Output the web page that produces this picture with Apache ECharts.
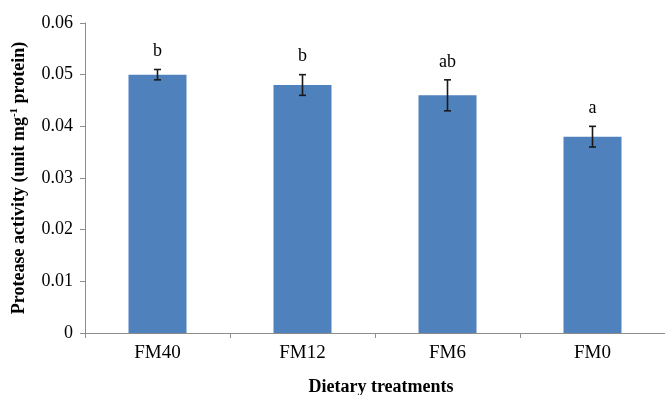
<!DOCTYPE html>
<html><head><meta charset="utf-8">
<script src="https://cdn.jsdelivr.net/npm/echarts@6/dist/echarts.min.js"></script>
<style>html,body{margin:0;padding:0;background:#fff}#c{width:665px;height:395px}</style>
</head><body><div id="c"></div>
<script>
var categories = ['FM40', 'FM12', 'FM6', 'FM0'];
var means = [0.050, 0.048, 0.046, 0.038];
var errors = [0.001, 0.002, 0.003, 0.002];
var letters = ['b', 'b', 'ab', 'a'];
var yTicks = [0, 0.01, 0.02, 0.03, 0.04, 0.05, 0.06];

var FONT = '"Liberation Serif", "Times New Roman", serif';
var chart = echarts.init(document.getElementById('c'), null, {renderer: 'canvas'});
var errData = means.map(function (m, i) { return [i, m - errors[i], m + errors[i]]; });

chart.setOption({
  animation: false,
  grid: {left: 85, right: 0, top: 23, bottom: 62, containLabel: false, outerBoundsMode: 'none'},
  xAxis: {
    type: 'category', data: categories,
    axisLine: {lineStyle: {color: '#8c8c8c', width: 1}},
    axisTick: {show: true, length: 5, alignWithLabel: false, lineStyle: {color: '#8c8c8c'}},
    axisLabel: {color: '#000', fontFamily: FONT, fontSize: 19, margin: 11},
    name: 'Dietary treatments', nameLocation: 'middle', nameGap: 45,
    nameTextStyle: {color: '#000', fontFamily: FONT, fontSize: 18, fontWeight: 'bold', padding: [0, 0, 0, 12]}
  },
  yAxis: {
    type: 'value', min: yTicks[0], max: yTicks[yTicks.length - 1], interval: 0.01,
    axisLine: {show: true, lineStyle: {color: '#8c8c8c', width: 1}},
    axisTick: {show: true, length: 5, lineStyle: {color: '#8c8c8c'}},
    splitLine: {show: false},
    axisLabel: {color: '#000', fontFamily: FONT, fontSize: 18, margin: 12,
      formatter: function (v) { return v === 0 ? '0' : v.toFixed(2); }},
    name: 'Protease activity (unit mg{sup|-1} protein)', nameLocation: 'middle', nameGap: 56,
    nameTextStyle: {color: '#000', fontFamily: FONT, fontSize: 18, fontWeight: 'bold',
      rich: {sup: {fontSize: 11, fontFamily: FONT, fontWeight: 'bold', verticalAlign: 'top', padding: [0,0,9,0]}}}
  },
  series: [
    {
      type: 'bar', data: means, barWidth: '40%',
      itemStyle: {color: '#4F81BD'}
    },
    {
      type: 'custom', data: errData,
      renderItem: function (params, api) {
        var x = api.value(0);
        var lo = api.coord([x, api.value(1)]);
        var hi = api.coord([x, api.value(2)]);
        var cw = 3.5;
        var st = {stroke: '#1a1a1a', lineWidth: 1.6};
        var idx = params.dataIndex;
        return {
          type: 'group',
          children: [
            {type: 'line', shape: {x1: hi[0], y1: hi[1], x2: lo[0], y2: lo[1]}, style: st},
            {type: 'line', shape: {x1: hi[0] - cw, y1: hi[1], x2: hi[0] + cw, y2: hi[1]}, style: st},
            {type: 'line', shape: {x1: lo[0] - cw, y1: lo[1], x2: lo[0] + cw, y2: lo[1]}, style: st},
            {type: 'text', style: {text: letters[idx], x: hi[0], y: hi[1] - 9,
              textAlign: 'center', textVerticalAlign: 'bottom',
              font: '18px ' + FONT, fill: '#000'}}
          ]
        };
      },
      z: 10
    }
  ]
});
</script></body></html>
